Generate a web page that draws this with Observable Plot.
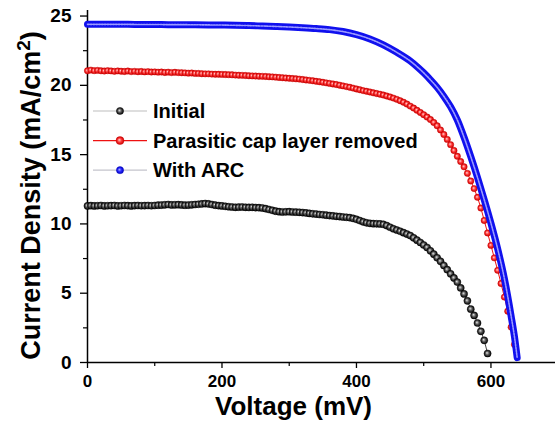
<!DOCTYPE html>
<html>
<head>
<meta charset="utf-8">
<script src="https://cdn.jsdelivr.net/npm/d3@7"></script>
<script src="https://cdn.jsdelivr.net/npm/@observablehq/plot@0.6"></script>
<style>
  html, body { margin: 0; padding: 0; background: #fff; }
  svg { display: block; }
</style>
</head>
<body>
<script>
// ---- data ----
const seriesNames = ["Initial", "Parasitic cap layer removed", "With ARC"];

// shared voltage sweep (mV) for the marker series
const voltage = [
  0,5,10,15,20,25,30,35,40,45,
  50,55,60,65,70,75,80,85,90,95,
  100,105,110,115,120,125,130,135,140,145,
  150,155,160,165,170,175,180,185,190,195,
  200,205,210,215,220,225,230,235,240,245,
  250,255,260,265,270,275,280,285,290,295,
  300,305,310,315,320,325,330,335,340,345,
  350,355,360,365,370,375,380,385,390,395,
  400,405,410,415,420,425,430,435,440,445,
  450,455,460,465,470,475,480,485,490,495,
  500,505,510,515,520,525,530,535,540,545,
  550,555,560,565,570,575,580,585,590,595,
  600,605,610,615,620,625,630,635
];

// Initial (mA/cm2)
const initialCurrent = [
  11.30,11.32,11.30,11.31,11.33,11.30,11.31,11.32,11.33,11.30,
  11.31,11.33,11.32,11.30,11.32,11.33,11.31,11.32,11.33,11.31,
  11.33,11.35,11.36,11.38,11.40,11.37,11.38,11.39,11.37,11.35,
  11.36,11.38,11.40,11.42,11.44,11.47,11.44,11.40,11.35,11.32,
  11.30,11.27,11.24,11.22,11.20,11.21,11.22,11.20,11.19,11.20,
  11.18,11.17,11.15,11.10,11.04,10.98,10.92,10.88,10.86,10.87,
  10.88,10.86,10.85,10.84,10.82,10.79,10.76,10.73,10.71,10.68,
  10.66,10.63,10.60,10.58,10.55,10.53,10.50,10.48,10.45,10.40,
  10.33,10.24,10.15,10.08,10.04,10.02,10.01,10.00,9.97,9.88,
  9.76,9.65,9.56,9.47,9.37,9.27,9.16,9.00,8.83,8.66,
  8.48,8.30,8.06,7.82,7.56,7.30,7.00,6.70,6.40,6.10,
  5.80,5.38,4.95,4.45,3.85,3.40,2.85,2.25,1.60,0.65
];

// Parasitic cap layer removed (mA/cm2)
const parasiticCurrent = [
  21.05,21.10,21.06,21.08,21.05,21.03,21.06,21.04,21.01,21.04,
  21.02,21.00,21.03,20.99,21.01,20.98,21.00,20.97,20.99,20.96,
  20.97,20.95,20.96,20.93,20.95,20.92,20.94,20.92,20.91,20.90,
  20.88,20.89,20.86,20.86,20.84,20.83,20.83,20.81,20.80,20.80,
  20.79,20.78,20.77,20.76,20.74,20.73,20.72,20.71,20.69,20.68,
  20.67,20.66,20.65,20.64,20.62,20.61,20.59,20.57,20.55,20.53,
  20.51,20.49,20.47,20.45,20.42,20.39,20.36,20.33,20.29,20.26,
  20.22,20.18,20.14,20.10,20.06,20.01,19.96,19.91,19.86,19.80,
  19.74,19.68,19.62,19.57,19.52,19.46,19.41,19.36,19.30,19.23,
  19.16,19.08,18.99,18.89,18.78,18.65,18.50,18.36,18.20,18.04,
  17.88,17.71,17.53,17.32,17.08,16.78,16.45,16.10,15.72,15.30,
  14.88,14.50,14.12,13.65,13.10,12.55,11.92,11.15,10.25,9.35,
  8.45,7.55,6.65,5.70,4.72,3.70,2.55,1.30
];

// With ARC (dense band in the reference)
const arcVoltage = [0,20,40,60,80,100,120,140,160,180,200,220,240,260,280,300,320,340,360,380,
  400,420,440,460,480,490,500,510,520,530,540,550,560,570,580,590,600,610,620,630,635,639];
const arcCurrent = [24.40,24.40,24.40,24.40,24.39,24.39,24.38,24.38,24.37,24.36,24.35,24.33,24.31,24.28,24.25,24.21,24.16,24.10,24.02,23.88,
  23.66,23.35,22.92,22.38,21.75,21.35,20.90,20.40,19.85,19.20,18.45,17.50,16.25,14.85,13.35,11.75,10.05,8.20,6.05,3.35,1.85,0.35];

const xTicks = [0, 200, 400, 600];
const xMinorTicks = [100, 300, 500];
const yTicks = [0, 5, 10, 15, 20, 25];
const yMinorTicks = [2.5, 7.5, 12.5, 17.5, 22.5];

// ---- tables ----
const initialData = initialCurrent.map((j, i) => ({v: voltage[i], j}));
const parasiticData = parasiticCurrent.map((j, i) => ({v: voltage[i], j}));
const arcData = arcCurrent.map((j, i) => ({v: arcVoltage[i], j}));

const RED = "#ee1111", BLUE = "#1010ee";
const FONT = "'Liberation Sans', Arial, Helvetica, sans-serif";

const chart = Plot.plot({
  width: 555,
  height: 423,
  marginLeft: 87,
  marginRight: 0,
  marginTop: 10,
  marginBottom: 61,
  style: {fontFamily: FONT, fontWeight: "bold", color: "#000", background: "#fff", overflow: "visible"},
  x: {domain: [0, 696]},
  y: {domain: [0, 25.4]},
  marks: [
    Plot.axisX({ticks: xTicks, tickSize: 6, tickPadding: 6, fontSize: 17, strokeWidth: 1.3, label: null}),
    Plot.axisX({ticks: xMinorTicks, tickSize: 4, strokeWidth: 1.2, fill: "none", label: null}),
    Plot.axisY({ticks: yTicks, tickSize: 7, tickPadding: 9, fontSize: 19, strokeWidth: 1.3, label: null}),
    Plot.axisY({ticks: yMinorTicks, tickSize: 4, strokeWidth: 1.2, fill: "none", label: null}),
    Plot.ruleY([0], {strokeWidth: 1.5}),
    Plot.ruleX([0], {y1: 0, y2: 25.4, strokeWidth: 1.5}),

    // Initial
    Plot.line(initialData, {x: "v", y: "j", stroke: "#444", strokeWidth: 1}),
    Plot.dot(initialData, {x: "v", y: "j", r: 3.6, fill: "url(#gBlack)", stroke: "#000", strokeWidth: 0.4}),

    // Parasitic cap layer removed
    Plot.line(parasiticData, {x: "v", y: "j", stroke: RED, strokeWidth: 1}),
    Plot.dot(parasiticData, {x: "v", y: "j", r: 3.2, fill: "url(#gRed)", stroke: "#d00000", strokeWidth: 0.4}),

    // With ARC (dense overlapping markers -> band)
    Plot.line(arcData, {x: "v", y: "j", curve: "monotone-x", stroke: BLUE, strokeWidth: 7}),
    Plot.line(arcData, {x: "v", y: "j", curve: "monotone-x", stroke: "#9c9cff", strokeWidth: 1.6, strokeDasharray: "1.6 1.2"}),

    Plot.text(["Voltage (mV)"], {frameAnchor: "bottom", textAnchor: "middle", lineAnchor: "middle", dx: -28, dy: 44, fontSize: 26, fontWeight: "bold"}),
    Plot.text(["Current Density (mA/cm2)"], {frameAnchor: "left", textAnchor: "middle", lineAnchor: "middle", rotate: -90, dx: -56, dy: 9, fontSize: 27, fontWeight: "bold"})
  ]
});

const svg = d3.select(chart);

// sphere-like gradients for markers
const defs = svg.insert("defs", ":first-child");
function sphere(id, c0, c1, c2) {
  const g = defs.append("radialGradient").attr("id", id)
    .attr("cx", "0.5").attr("cy", "0.5").attr("r", "0.5").attr("fx", "0.4").attr("fy", "0.4");
  g.append("stop").attr("offset", "0").attr("stop-color", c0);
  g.append("stop").attr("offset", "0.5").attr("stop-color", c1);
  g.append("stop").attr("offset", "1").attr("stop-color", c2);
}
sphere("gBlack", "#e6e6e6", "#555555", "#000000");
sphere("gRed", "#ffd6d6", "#ff3a3a", "#c80000");
sphere("gBlue", "#b0b0ff", "#2a2aff", "#0000c0");

// superscript in y label
svg.selectAll("text").filter(function() { return this.textContent === "Current Density (mA/cm2)"; })
  .each(function() {
    const t = d3.select(this);
    t.text(null);
    t.append("tspan").text("Current Density (mA/cm");
    t.append("tspan").attr("dy", -10).attr("font-size", 19).text("2");
    t.append("tspan").attr("dy", 10).text(")");
  });

// legend
const legend = svg.append("g").attr("font-family", FONT).attr("font-weight", "bold").attr("text-anchor", "start");
const legendStyles = [
  {line: "#bdbdbd", fill: "url(#gBlack)", stroke: "#000", r: 3.6},
  {line: RED, fill: "url(#gRed)", stroke: "#d00000", r: 4},
  {line: "#c4c4cc", fill: "url(#gBlue)", stroke: "#0000c0", r: 3.6}
];
seriesNames.forEach((name, i) => {
  const y = 111 + i * 29.6;
  const s = legendStyles[i];
  legend.append("line").attr("x1", 93).attr("x2", 147).attr("y1", y).attr("y2", y)
    .attr("stroke", s.line).attr("stroke-width", 1.2);
  legend.append("circle").attr("cx", 120).attr("cy", y).attr("r", s.r)
    .attr("fill", s.fill).attr("stroke", s.stroke).attr("stroke-width", 0.4);
  legend.append("text").attr("x", 153).attr("y", y).attr("dy", "0.36em")
    .attr("font-size", 20).attr("fill", "#000").text(name);
});

document.body.appendChild(chart);
</script>
</body>
</html>
